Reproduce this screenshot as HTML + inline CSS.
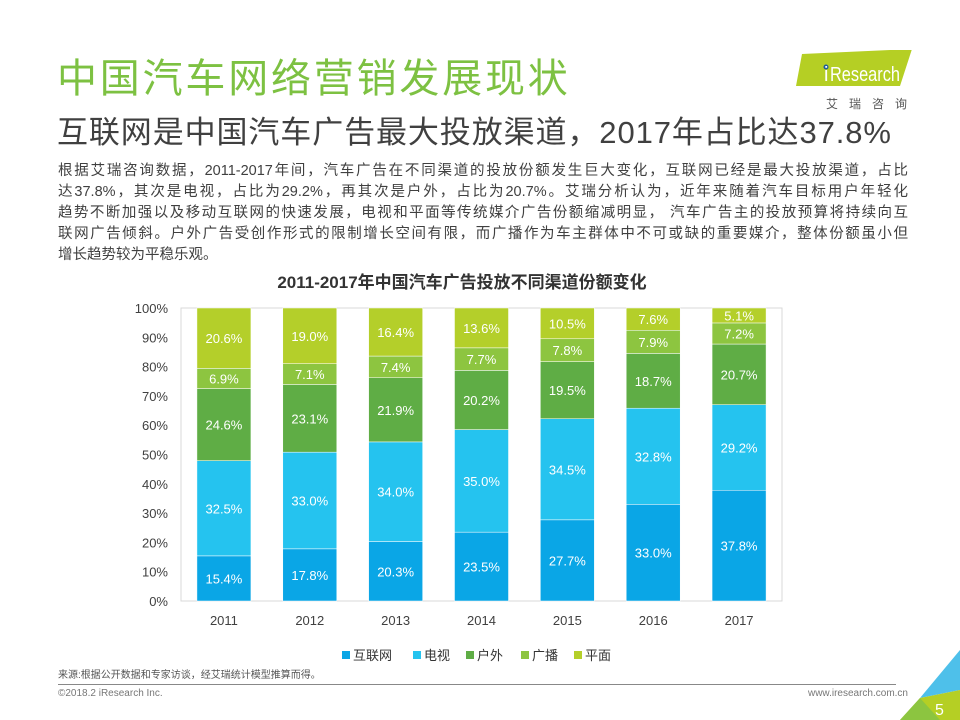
<!DOCTYPE html>
<html><head><meta charset="utf-8"><style>
body{margin:0;width:960px;height:720px;overflow:hidden;background:#fff;font-family:"Liberation Sans","Noto Sans CJK SC",sans-serif;position:relative}
.abs{position:absolute}
.ln{text-align:justify;text-align-last:justify;white-space:nowrap;height:21px}
</style></head><body>
<div class="abs" style="left:57px;top:54px;font-size:40px;color:#7dc142;letter-spacing:2.8px;white-space:nowrap;line-height:50px">中国汽车网络营销发展现状</div>
<div class="abs" style="left:57px;top:113px;font-size:31px;color:#404040;white-space:nowrap;line-height:40px;letter-spacing:0.9px">互联网是中国汽车广告最大投放渠道，2017年占比达37.8%</div>
<div class="abs" style="left:58px;top:161px;width:850px;font-size:14.5px;color:#404040;line-height:21px">
<div class="ln">根据艾瑞咨询数据，2011-2017年间，汽车广告在不同渠道的投放份额发生巨大变化，互联网已经是最大投放渠道，占比</div>
<div class="ln">达37.8%，其次是电视，占比为29.2%，再其次是户外，占比为20.7%。艾瑞分析认为，近年来随着汽车目标用户年轻化</div>
<div class="ln">趋势不断加强以及移动互联网的快速发展，电视和平面等传统媒介广告份额缩减明显， 汽车广告主的投放预算将持续向互</div>
<div class="ln">联网广告倾斜。户外广告受创作形式的限制增长空间有限，而广播作为车主群体中不可或缺的重要媒介，整体份额虽小但</div>
<div>增长趋势较为平稳乐观。</div>
</div>
<div class="abs" style="left:790px;top:50px;width:130px;height:60px">
<svg width="130" height="60"><polygon points="12,4 122,-1 110,36 6,36" fill="#b5cf24"/><circle cx="36" cy="17" r="2.5" fill="#1f5c9c"/><text x="34" y="31" font-size="20" fill="#fff" font-family="Liberation Sans">i</text><text x="40" y="31" font-size="20" fill="#fff" font-family="Liberation Sans" textLength="70" lengthAdjust="spacingAndGlyphs">Research</text><text x="36" y="58" font-size="12" fill="#555" letter-spacing="11" font-family="Noto Sans CJK SC">艾瑞咨询</text></svg></div>
<div class="abs" style="left:0;width:924px;top:268px;text-align:center;font-size:17px;font-weight:bold;color:#333">2011-2017年中国汽车广告投放不同渠道份额变化</div>
<svg class="abs" style="left:0;top:0" width="960" height="720" id="chart"></svg>
<div class="abs" style="left:58px;top:666px;font-size:10px;color:#555">来源:根据公开数据和专家访谈，经艾瑞统计模型推算而得。</div>
<div class="abs" style="left:58px;top:684px;width:838px;height:1px;background:#888"></div>
<div class="abs" style="left:58px;top:688px;font-size:10px;color:#777">©2018.2 iResearch Inc.</div>
<div class="abs" style="right:52px;top:688px;font-size:10px;color:#777">www.iresearch.com.cn</div>
<svg class="abs" style="left:890px;top:640px" width="70" height="80"><polygon points="70,10 70,50 30,58" fill="#4ec0ea"/><polygon points="30,58 70,50 70,80 10,80" fill="#b5cf24"/><polygon points="30,58 50,80 10,80" fill="#8cc540"/><text x="45" y="75" font-size="16" fill="#fff">5</text></svg>
<script>
const years=["2011","2012","2013","2014","2015","2016","2017"];
const seriesNames=["互联网","电视","户外","广播","平面"];
const internet=[15.4,17.8,20.3,23.5,27.7,33.0,37.8];
const tv=[32.5,33.0,34.0,35.0,34.5,32.8,29.2];
const outdoor=[24.6,23.1,21.9,20.2,19.5,18.7,20.7];
const radio=[6.9,7.1,7.4,7.7,7.8,7.9,7.2];
const print=[20.6,19.0,16.4,13.6,10.5,7.6,5.1];
const yTicks=[0,10,20,30,40,50,60,70,80,90,100];
const colors=["#0aa6e6","#25c3ef","#5fad45","#8dc540","#b4cf2a"];
const series=[internet,tv,outdoor,radio,print];
const NS="http://www.w3.org/2000/svg",svg=document.getElementById("chart");
const L=181,R=782,T=308,B=601;
const y=v=>B-(v/100)*(B-T);
const step=(R-L)/years.length,bw=54;
const x=i=>L+step*(i+0.5);
function mk(t,a,p){const e=document.createElementNS(NS,t);for(const k in a)e.setAttribute(k,a[k]);(p||svg).appendChild(e);return e;}
const frame=mk("rect",{x:L,y:T,width:R-L,height:B-T,fill:"none",stroke:"#d9d9d9"});


yTicks.forEach(t=>{const e=mk("text",{x:L-13,y:y(t)+5,"text-anchor":"end","font-size":13,fill:"#404040"});e.textContent=t+"%";

});
years.forEach((yr,i)=>{let c=0;
series.forEach((s,j)=>{const v=s[i];const r=mk("rect",{x:x(i)-bw/2,y:y(c+v),width:bw,height:y(c)-y(c+v),fill:colors[j],stroke:"#fff","stroke-width":0.5});


const t=mk("text",{x:x(i),y:y(c+v/2)+5,"text-anchor":"middle","font-size":13,fill:"#fff"});t.textContent=v.toFixed(1)+"%";


c+=v;});
const xl=mk("text",{x:x(i),y:B+24,"text-anchor":"middle","font-size":13,fill:"#404040"});xl.textContent=yr;

});
const lx=[342,413,466,521,574];
seriesNames.forEach((n,j)=>{const g=mk("g",{});


mk("rect",{x:lx[j],y:651,width:8,height:8,fill:colors[j]},g);
const t=mk("text",{x:lx[j]+11,y:660,"font-size":13,fill:"#333"},g);t.textContent=n;});
</script>
</body></html>
